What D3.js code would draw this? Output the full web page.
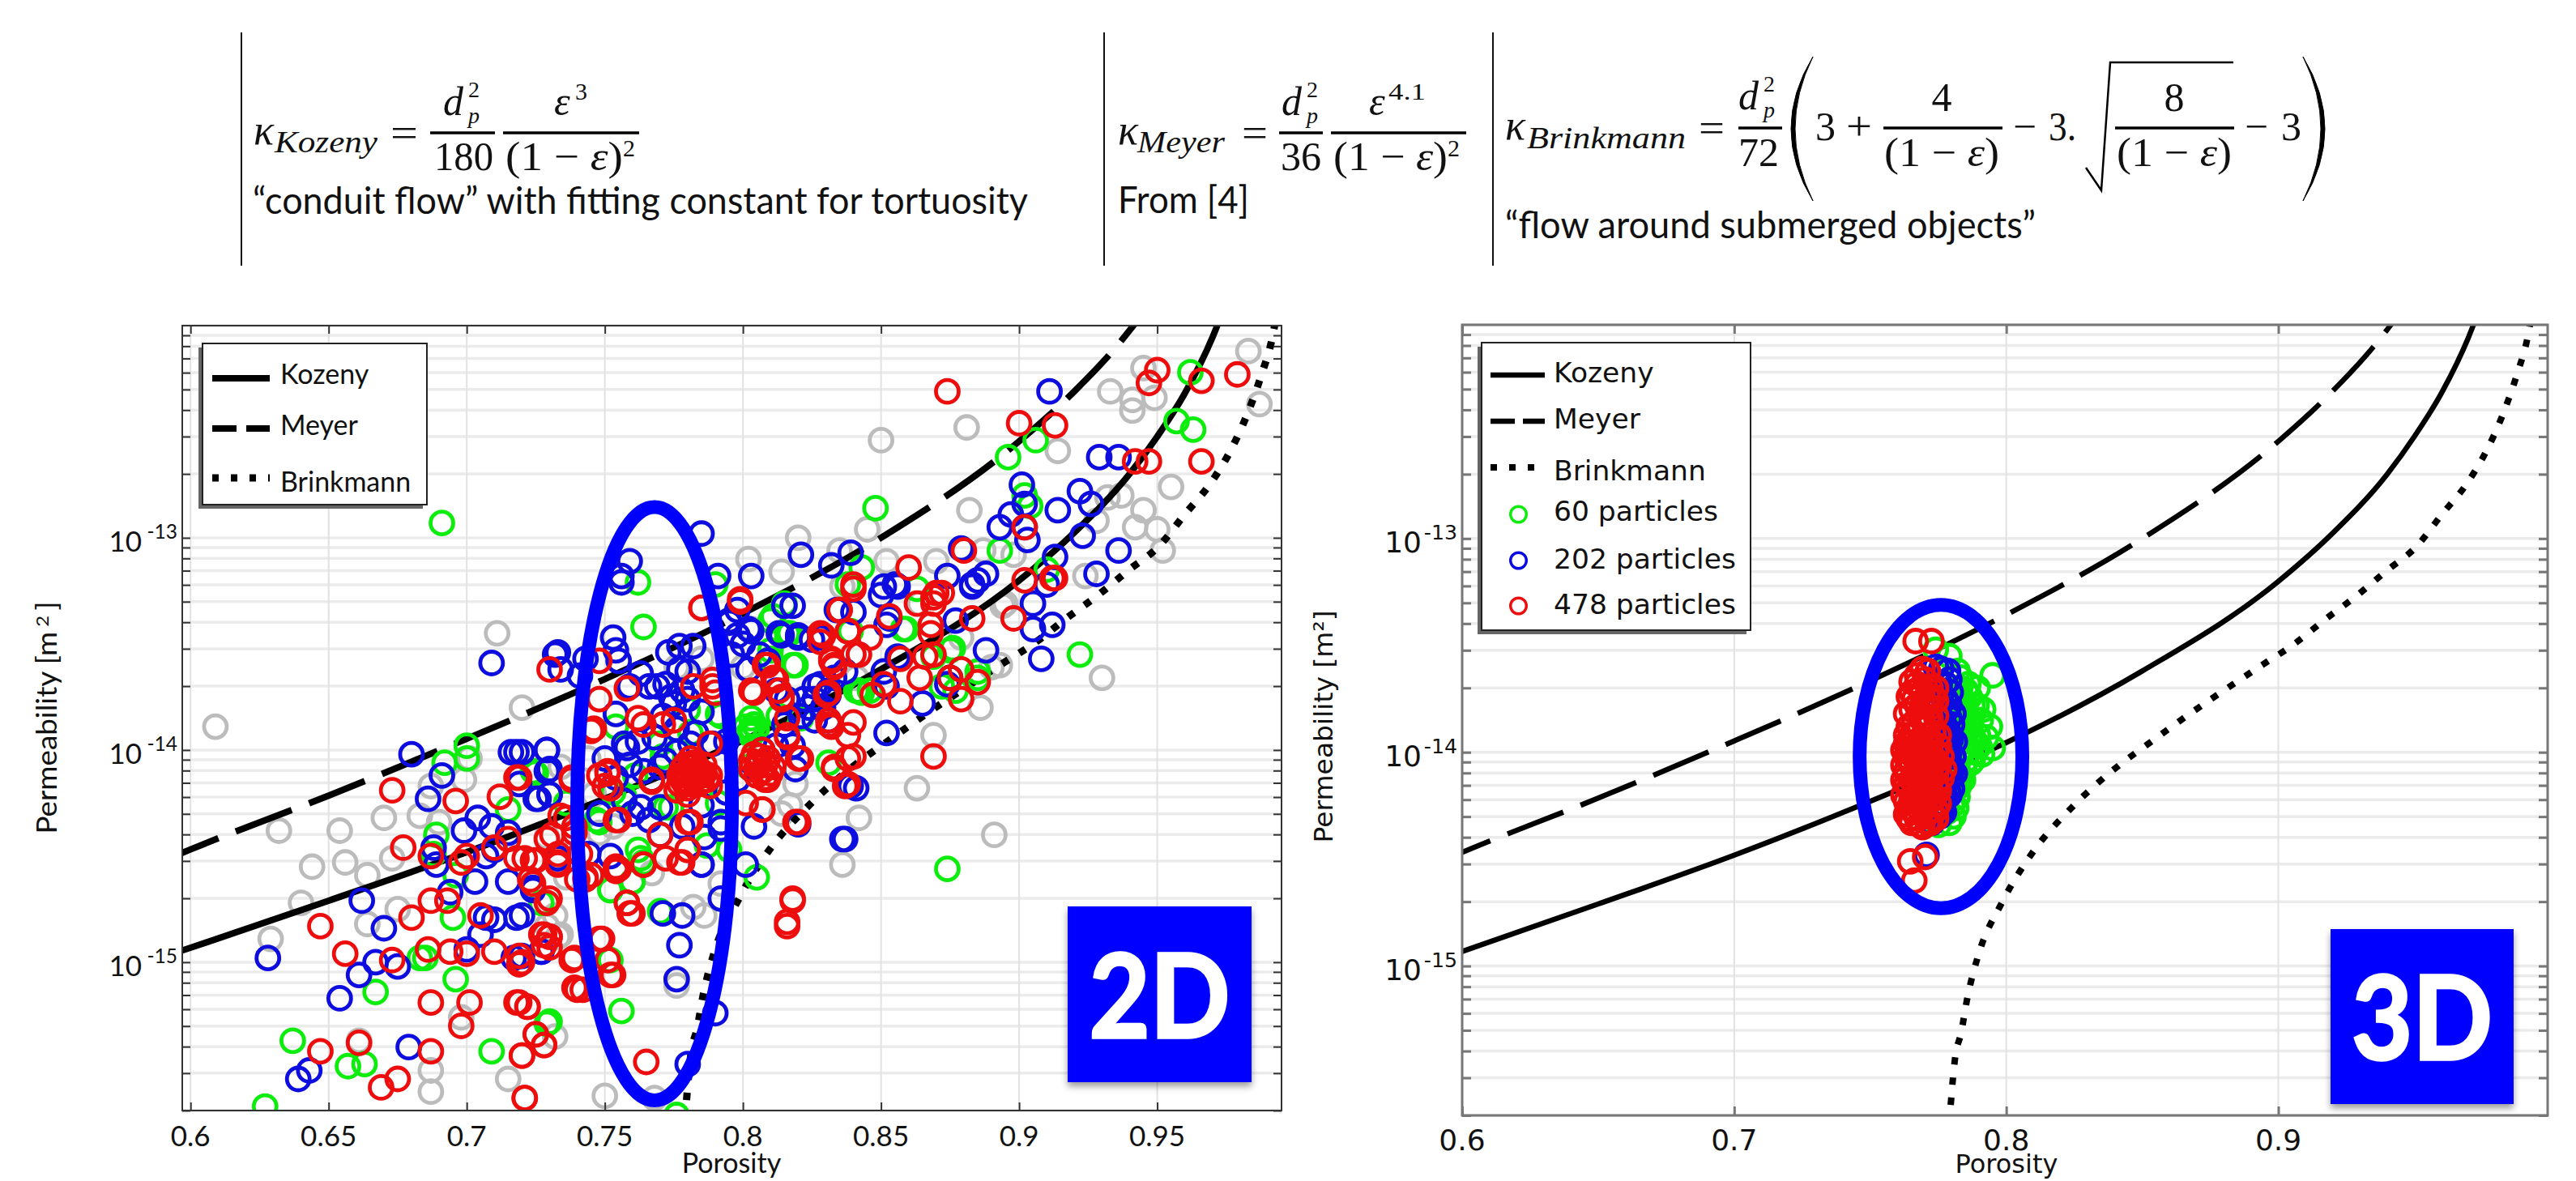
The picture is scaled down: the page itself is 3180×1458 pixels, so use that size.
<!DOCTYPE html>
<meta charset="utf-8">
<style>
    body { margin: 0; background: #fff; }
    svg { display: block; }
    text { fill: #111; }
    .domain { display: none; }
</style>
<svg width="3180" height="1458"></svg>
<script src="https://d3js.org/d3.v7.min.js"></script>
<script>
    // all readings are off the picture: [porosity, log10(permeability)]
    var gray2D = [[.609,-13.89],[.711,-13.45],[.720,-13.80],[.632,-14.38],[.654,-14.38],[.644,-14.55],[.656,-14.53],[.664,-14.59],[.673,-14.51],[.670,-14.32],[.683,-14.31],[.687,-14.17],[.699,-14.14],[.701,-14.04],[.640,-14.72],[.629,-14.89],[.664,-14.82],[.675,-14.75],[.698,-15.26],[.732,-15.35],[.687,-15.51],[.687,-15.61],[.715,-15.55],[.750,-15.63],[.768,-15.64],[.661,-15.37],[.729,-14.83],[.734,-14.87],[.690,-14.34],
        [.754,-13.83],[.758,-13.71],[.758,-13.98],[.744,-14.04],[.776,-13.61],[.785,-13.57],[.800,-13.61],[.803,-13.43],[.819,-13.60],[.817,-14.26],[.814,-14.30],[.819,-14.16],[.836,-14.54],[.792,-14.63],[.782,-14.74],[.786,-14.78],[.767,-14.58],[.753,-14.36],[.748,-14.39],[.729,-14.41],[.736,-14.60],[.732,-14.78],[.841,-13.66],[.734,-14.08],[.746,-14.21],[.776,-15.11],[.733,-14.88],
        [.930,-13.66],[.886,-13.80],[.869,-13.93],[.863,-14.18],[.842,-14.32],[.891,-14.40],[.893,-13.60],[.879,-13.47],[.895,-13.31],[.842,-13.55],[.836,-13.23],[.864,-13.31],
        [.983,-12.12],[.987,-12.37],[.945,-12.20],[.949,-12.34],[.941,-12.35],[.941,-12.40],[.933,-12.31],[.881,-12.48],[.914,-12.59],[.850,-12.54],[.955,-12.76],[.882,-12.87],[.945,-12.87],[.937,-12.80],[.932,-12.81],[.942,-12.95],[.950,-12.96],[.952,-13.06],[.928,-12.92],[.845,-12.96],[.820,-13.00],[.802,-13.10],[.814,-13.16],[.835,-13.06],[.852,-13.11],[.870,-13.11],[.887,-13.06],[.898,-13.08],[.924,-13.18],[.894,-13.32],[.890,-13.61]];

    var green2D = [[.691,-12.93],[.764,-13.42],[.762,-13.21],[.815,-13.31],[.810,-13.39],[.817,-13.45],[.819,-13.60],[.810,-13.57],[.839,-13.44],[.754,-13.89],[.780,-13.81],[.791,-13.83],[.781,-13.92],[.770,-13.97],[.771,-14.03],[.725,-14.11],[.761,-14.12],[.757,-14.22],[.753,-14.20],[.736,-14.25],[.772,-14.27],[.774,-14.27],[.791,-14.25],[.748,-14.34],[.803,-13.90],[.803,-13.85],[.813,-13.84],[.821,-13.84],[.831,-14.06],[.802,-14.08],[.762,-14.47],[.763,-14.51],[.764,-14.53],[.760,-14.62],[.752,-14.66],[.787,-14.45],[.795,-14.47],[.805,-14.60],[.770,-14.76],[.727,-14.72],[.842,-13.72],
        [.756,-15.23],[.730,-15.28],[.752,-14.99],[.776,-15.72],[.700,-13.98],[.700,-14.04],[.692,-14.06],[.724,-14.10],[.715,-14.28],[.689,-14.40],[.688,-14.49],[.696,-14.59],[.695,-14.79],[.685,-14.98],[.683,-14.98],[.696,-15.08],[.667,-15.14],[.729,-15.29],[.709,-15.42],[.637,-15.37],[.657,-15.49],[.663,-15.48],[.627,-15.68],[.747,-14.33],[.752,-14.66],[.760,-14.62],
        [.848,-12.86],[.896,-12.62],[.906,-12.54],[.962,-12.22],[.957,-12.45],[.963,-12.49],[.902,-12.80],[.904,-12.85],[.893,-13.06],[.910,-13.15],[.843,-13.14],[.838,-13.22],[.863,-13.24],[.815,-13.32],[.811,-13.37],[.816,-13.45],[.858,-13.43],[.818,-13.60],[.810,-13.53],[.790,-13.22],[.876,-13.52],[.885,-13.63],[.922,-13.55],[.885,-13.66],[.877,-13.72],[.846,-13.72],[.841,-13.72],[.872,-13.70],[.859,-13.43],[.875,-13.53],[.869,-13.56],[.874,-14.56],[.875,-13.66],[.843,-13.73],[.821,-13.85],[.803,-13.91],[.792,-13.84],
        [.802,-13.92],[.804,-13.88],[.803,-13.93],[.805,-13.90],[.801,-13.89]];

    var blue2D = [[.709,-13.59],[.732,-13.55],[.734,-13.62],[.743,-13.57],[.759,-13.11],[.756,-13.18],[.753,-13.47],[.754,-13.53],[.755,-13.58],[.733,-13.54],[.741,-13.65],[.756,-13.21],[.818,-13.32],[.798,-13.34],[.795,-13.40],[.803,-13.44],[.798,-13.46],[.800,-13.50],[.806,-13.55],[.814,-13.46],[.820,-13.46],[.828,-13.47],[.834,-13.34],[.773,-13.54],[.777,-13.51],[.782,-13.51],[.777,-13.62],[.780,-13.63],[.763,-13.64],[.769,-13.70],[.766,-13.70],[.772,-13.69],[.759,-13.70],[.774,-13.75],[.780,-13.76],[.754,-13.83],[.771,-13.84],[.783,-13.92],[.757,-13.97],[.758,-13.99],[.750,-14.04],[.729,-14.00],[.720,-14.01],[.730,-14.09],[.726,-14.23],[.730,-14.21],[.767,-14.14],[.772,-14.05],[.781,-13.97],[.789,-13.97],[.763,-14.27],[.770,-14.27],[.748,-14.30],[.785,-14.26],[.792,-14.34],[.786,-14.41],[.770,-14.40],[.804,-14.36],[.785,-14.54],[.801,-14.54],[.752,-14.50],[.744,-14.49],[.733,-14.51],[.724,-14.65],[.720,-14.78],[.792,-14.70],[.778,-14.78],[.771,-14.77],[.820,-14.35],[.837,-14.42],[.819,-14.09],[.839,-14.17],[.831,-13.72],[.833,-13.66],[.822,-13.76],[.826,-13.76],[.821,-13.84],[.826,-13.86],[.831,-13.86],[.807,-14.00],[.812,-13.72],[.816,-13.76],[.815,-13.88],[.809,-13.58],[.837,-13.63],
        [.777,-14.92],[.776,-15.08],[.790,-15.24],[.780,-15.48],[.727,-14.95],[.720,-14.97],
        [.680,-14.02],[.691,-14.12],[.686,-14.23],[.718,-14.01],[.716,-14.01],[.729,-14.00],[.729,-14.10],[.719,-14.16],[.725,-14.23],[.730,-14.21],[.704,-14.32],[.699,-14.38],[.709,-14.36],[.715,-14.39],[.710,-14.47],[.707,-14.50],[.689,-14.54],[.688,-14.46],[.703,-14.62],[.715,-14.62],[.694,-14.67],[.724,-14.66],[.662,-14.71],[.670,-14.84],[.707,-14.79],[.710,-14.80],[.718,-14.79],[.705,-14.87],[.700,-14.94],[.717,-14.98],[.727,-14.95],[.667,-15.00],[.661,-15.06],[.675,-15.02],[.628,-14.98],[.654,-15.17],[.679,-15.40],[.643,-15.51],[.639,-15.55],
        [.785,-12.98],[.791,-13.18],[.803,-13.18],[.821,-13.08],[.839,-13.07],[.832,-13.13],[.815,-13.32],[.795,-13.39],[.802,-13.43],[.813,-13.45],[.820,-13.47],[.851,-13.23],[.855,-13.22],[.874,-13.18],[.883,-13.22],[.885,-13.20],[.888,-13.17],[.879,-13.05],[.911,-12.31],[.901,-12.75],[.922,-12.78],[.926,-12.84],[.914,-12.87],[.902,-12.84],[.897,-12.89],[.893,-12.95],[.902,-12.95],[.903,-13.01],[.923,-12.99],[.913,-13.09],[.936,-13.06],[.929,-12.62],[.936,-12.62],[.928,-13.17],[.910,-13.22],[.905,-13.31],[.905,-13.43],[.912,-13.41],[.908,-13.57],[.888,-13.53],[.877,-13.39],[.865,-13.78],[.852,-13.92],[.856,-13.56],[.852,-13.70],[.875,-13.66],[.825,-13.48],[.831,-13.74],[.840,-13.35],[.852,-13.41],
        [.841,-14.18],[.836,-14.42],[.851,-13.63],[.828,-13.69],[.853,-13.38],[.850,-13.27],[.856,-13.23],[.883,-13.23],[.874,-13.69],[.792,-14.37],[.785,-14.54],
        [.775,-13.78],[.778,-13.72],[.785,-13.82],[.776,-13.90],[.768,-13.94],[.762,-13.96],[.759,-14.07],[.754,-14.13],[.764,-14.10],[.770,-14.08],[.776,-14.01],[.794,-13.96],[.798,-14.14],[.794,-14.20],[.757,-14.24],[.760,-14.30],[.778,-14.36],[.766,-14.33],[.812,-13.98],[.818,-13.98],[.826,-13.70],[.824,-13.80],[.829,-13.80],[.802,-13.62],[.796,-13.55]];

    var red2D = [[.874,-12.31],[.900,-12.46],[.913,-12.47],[.950,-12.21],[.947,-12.27],[.966,-12.26],[.979,-12.23],[.942,-12.64],[.947,-12.64],[.966,-12.64],[.902,-12.95],[.880,-13.06],[.860,-13.14],[.902,-13.20],[.913,-13.19],[.912,-13.19],[.840,-13.22],[.799,-13.30],[.785,-13.33],[.870,-13.26],[.872,-13.26],[.869,-13.28],[.863,-13.31],[.869,-13.31],[.835,-13.34],[.853,-13.37],[.883,-13.38],[.898,-13.38],[.868,-13.41],[.828,-13.45],[.838,-13.44],[.846,-13.47],[.868,-13.45],[.842,-13.55],[.832,-13.58],[.833,-13.61],[.869,-13.55],[.866,-13.56],[.857,-13.57],[.864,-13.66],[.851,-13.69],[.847,-13.74],[.857,-13.77],[.875,-13.66],[.885,-13.68],[.879,-13.62],[.879,-13.76],[.830,-13.74],[.831,-13.88],[.840,-13.87],[.816,-13.93],[.808,-13.60],[.811,-13.66],[.814,-13.75],[.803,-13.72],[.799,-13.29],
        [.869,-14.03],[.833,-14.08],[.840,-14.03],[.837,-14.17],[.820,-14.04],[.819,-14.34],[.807,-14.28],[.818,-14.71],[.816,-14.83],[.780,-14.47],[.777,-14.53],[.781,-14.34],[.808,-14.13],
        [.785,-13.33],[.730,-13.62],[.748,-13.58],[.758,-13.71],[.748,-13.76],[.746,-13.90],[.762,-13.85],[.764,-13.88],[.771,-13.88],[.775,-13.86],[.782,-13.70],[.789,-13.67],[.789,-13.70],[.790,-13.73],[.804,-13.73],[.809,-13.60],[.812,-13.67],[.813,-13.72],[.814,-13.76],[.816,-13.85],[.816,-13.94],[.821,-14.04],[.831,-13.86],[.832,-13.89],[.838,-13.93],[.829,-13.46],[.828,-13.49],[.835,-13.34],[.838,-13.44],[.832,-13.57],[.833,-13.60],[.840,-13.55],[.831,-13.73],[.840,-13.24],
        [.778,-14.09],[.780,-14.11],[.781,-14.04],[.783,-14.13],[.786,-14.11],[.778,-14.14],[.781,-14.16],[.776,-14.19],[.780,-14.21],[.788,-14.17],[.788,-13.97],[.784,-14.09],[.785,-14.15],[.779,-14.07],[.782,-14.10],
        [.782,-14.06],[.779,-14.12],[.784,-14.16],[.787,-14.14],[.777,-14.16],[.783,-14.07],[.786,-14.07],[.780,-14.18],[.777,-14.12],[.785,-14.12],[.788,-14.12],[.782,-14.14],[.784,-14.11],[.781,-14.08],[.779,-14.16],
        [.806,-14.03],[.807,-14.00],[.808,-14.07],[.805,-14.08],[.810,-14.11],[.808,-14.14],[.803,-14.05],[.804,-14.02],[.806,-14.06],[.809,-14.04],[.807,-14.10],[.805,-14.12],[.803,-14.09],[.811,-14.08],[.809,-14.14],
        [.833,-14.09],[.838,-14.04],[.838,-14.16],[.820,-14.34],[.807,-14.28],[.801,-14.25],[.780,-14.34],[.755,-14.33],[.751,-14.11],[.752,-14.18],[.767,-14.14],[.748,-14.12],[.738,-14.13],[.719,-14.13],[.770,-14.40],[.780,-14.47],[.778,-14.53],[.772,-14.51],[.754,-14.55],[.764,-14.54],[.755,-14.56],[.743,-14.60],[.745,-14.59],[.733,-14.54],[.724,-14.52],[.721,-14.51],[.723,-14.61],[.730,-14.70],[.758,-14.72],[.760,-14.77],[.818,-14.70],[.816,-14.81],[.739,-14.39],[.731,-14.40],[.733,-14.49],[.741,-14.49],[.734,-14.31],
        [.749,-14.89],[.753,-15.06],[.739,-14.98],[.739,-15.12],[.742,-15.13],[.728,-14.87],[.730,-14.88],[.730,-14.93],[.720,-15.00],[.722,-15.21],[.719,-15.19],[.725,-15.34],[.728,-15.39],[.720,-15.44],[.765,-15.47],[.721,-15.64],
        [.673,-14.19],[.696,-14.24],[.718,-14.13],[.712,-14.22],[.677,-14.46],[.687,-14.50],[.700,-14.50],[.698,-14.53],[.710,-14.46],[.715,-14.42],[.718,-14.51],[.725,-14.52],[.733,-14.53],[.724,-14.63],[.729,-14.72],[.687,-14.71],[.693,-14.71],[.680,-14.79],[.647,-14.83],[.705,-14.78],[.656,-14.96],[.673,-14.99],[.686,-14.94],[.694,-14.95],[.700,-14.96],[.710,-14.95],[.719,-14.97],[.719,-15.01],[.727,-14.87],[.730,-14.88],[.728,-14.92],[.687,-15.19],[.701,-15.19],[.718,-15.19],[.722,-15.21],[.698,-15.30],[.725,-15.34],[.728,-15.39],[.720,-15.44],[.687,-15.42],[.661,-15.38],[.647,-15.42],[.675,-15.55],[.669,-15.59],[.721,-15.64],[.738,-14.99],[.740,-15.13],[.748,-14.89],[.751,-14.99],[.752,-15.06],[.758,-14.72],[.759,-14.77],[.754,-14.57],[.764,-14.54],[.743,-14.61],[.740,-14.61],[.736,-14.32],[.739,-14.36],[.729,-14.42],[.751,-14.10],[.750,-14.17],[.738,-14.14],[.754,-14.33],[.767,-14.15],[.745,-13.91]];

    var green3D = [[.7950,-13.64],[.7895,-13.70],[.7915,-13.80],[.7940,-13.88],[.7950,-13.98],[.7870,-14.05],[.7831,-14.12],[.7821,-14.21],[.7791,-14.33],[.7751,-14.34],[.7791,-13.55],[.7741,-13.52],[.7821,-13.62],[.7851,-13.71],[.7811,-13.70],[.7831,-13.74],[.7801,-13.80],[.7826,-13.84],[.7851,-13.80],[.7876,-13.78],[.7871,-13.86],[.7841,-13.90],[.7811,-13.88],[.7806,-13.97],[.7836,-13.98],[.7866,-13.95],[.7896,-13.92],[.7886,-14.00],[.7851,-14.04],[.7821,-14.06],[.7806,-14.10],[.7906,-13.85],[.7926,-13.93],[.7911,-14.01],[.7841,-14.13],[.7811,-14.17],[.7801,-14.25],[.7781,-14.28],[.7831,-13.65],[.7861,-13.68],
        [.7831,-13.70],[.7846,-13.77],[.7816,-13.76],[.7861,-13.84],[.7891,-13.78],[.7851,-13.92],[.7831,-13.93],[.7816,-13.94],[.7881,-13.94],[.7861,-14.00],[.7831,-14.02],[.7846,-14.08],[.7901,-13.97],[.7816,-13.82],[.7841,-13.84],[.7876,-14.04],[.7826,-14.10],[.7826,-14.16],[.7816,-14.26],[.7806,-14.30],[.7801,-13.74],[.7836,-13.79],[.7866,-13.74],[.7871,-13.91],[.7851,-13.98]];
    var blue3D = [[.7741,-13.60],[.7786,-13.62],[.7761,-13.61],[.7781,-13.80],[.7791,-13.78],[.7796,-13.94],[.7801,-14.08],[.7776,-14.21],[.7727,-14.33],[.7707,-14.48],[.7756,-13.68],[.7776,-13.75],[.7766,-13.85],[.7786,-13.90],[.7791,-14.00],[.7771,-14.03],[.7796,-14.12],[.7776,-14.15],[.7766,-14.25],[.7786,-14.18],[.7746,-14.28],[.7756,-13.78],[.7736,-13.95],[.7746,-14.10],[.7781,-14.06],[.7771,-13.97],[.7791,-13.84],[.7761,-13.73],
        [.7776,-13.68],[.7796,-13.72],[.7806,-13.82],[.7791,-13.92],[.7806,-14.02],[.7796,-14.06],[.7811,-14.10],[.7791,-14.20],[.7771,-14.28],[.7756,-14.30],[.7791,-13.66],[.7781,-14.10],[.7786,-13.98],[.7801,-13.87],[.7761,-13.90],[.7766,-14.20],[.7801,-14.17],[.7751,-14.04],[.7776,-13.88],[.7811,-13.95]];
    var red3D = [[.7667,-13.48],[.7725,-13.48],[.7662,-14.60],[.7647,-14.51],[.7702,-14.49],[.7672,-13.64],[.7692,-13.61],[.7712,-13.62],[.7702,-13.66],[.7652,-13.67],[.7682,-13.70],[.7722,-13.70],[.7652,-13.72],[.7662,-13.75],[.7712,-13.74],[.7692,-13.78],[.7722,-13.79],[.7652,-13.80],[.7682,-13.82],[.7712,-13.84],[.7742,-13.83],[.7662,-13.86],[.7642,-13.88],[.7702,-13.89],[.7732,-13.91],[.7652,-13.92],[.7682,-13.94],[.7722,-13.96],[.7642,-13.96],[.7662,-13.99],[.7702,-14.00],[.7742,-14.00],[.7632,-14.02],[.7682,-14.03],[.7722,-14.05],[.7752,-14.06],[.7652,-14.06],[.7632,-14.09],[.7702,-14.08],[.7742,-14.10],[.7672,-14.11],[.7652,-14.13],[.7722,-14.13],[.7692,-14.15],[.7642,-14.17],[.7742,-14.16],[.7672,-14.19],[.7712,-14.20],[.7652,-14.22],[.7732,-14.22],[.7692,-14.24],[.7642,-14.26],[.7722,-14.27],[.7662,-14.28],[.7702,-14.30],[.7652,-14.33],[.7682,-14.34],[.7722,-14.33],[.7692,-14.35],
        [.7672,-13.68],[.7642,-13.74],[.7732,-13.74],[.7672,-13.78],[.7632,-13.82],[.7742,-13.76],[.7692,-13.84],[.7722,-13.86],[.7632,-13.92],[.7662,-13.92],[.7702,-13.94],[.7752,-13.92],[.7622,-13.99],[.7682,-13.98],[.7722,-14.00],[.7762,-14.02],[.7652,-14.01],[.7622,-14.06],[.7672,-14.06],[.7702,-14.04],[.7742,-14.04],[.7772,-14.08],[.7622,-14.13],[.7682,-14.10],[.7722,-14.09],[.7762,-14.12],[.7632,-14.15],[.7702,-14.13],[.7752,-14.18],[.7622,-14.20],[.7682,-14.16],[.7722,-14.18],[.7662,-14.23],[.7702,-14.22],[.7752,-14.24],[.7632,-14.23],[.7682,-14.27],[.7742,-14.27],[.7632,-14.29],[.7702,-14.26],[.7672,-14.31],[.7712,-14.33],[.7742,-14.31],[.7642,-14.31],[.7692,-13.72],[.7742,-13.70],[.7632,-13.96],[.7682,-13.88],[.7652,-13.96],[.7732,-14.03],[.7712,-13.92],[.7692,-14.02],[.7752,-13.97],[.7702,-14.18],[.7662,-14.15],[.7642,-14.04],[.7712,-14.11],[.7682,-14.21],[.7652,-14.27],[.7722,-13.84]];

    var kozenyPorosity = [.59,.6,.65,.7,.75,.8,.85,.9,.92,.94,.95,.96,.97,.975];
    var kozenyValues = [1.06e-15,1.17e-15,1.95e-15,3.3e-15,5.9e-15,1.11e-14,2.4e-14,6.3e-14,1.06e-13,2.0e-13,3.0e-13,4.8e-13,8.8e-13,1.29e-12];
    var meyerPorosity = [.59,.6,.65,.7,.75,.8,.85,.9,.92,.935,.94,.945];
    var meyerValues = [3.0e-15,3.4e-15,6.1e-15,1.13e-14,2.16e-14,4.4e-14,1.0e-13,2.85e-13,4.9e-13,7.9e-13,9.5e-13,1.15e-12];
    var brinkmannPorosity = [.779,.7813,.7833,.7858,.7895,.7986,.8097,.824,.8405,.8524,.8637,.8928,.9057,.9174,.9288,.94,.9505,.9602,.9692,.9767,.9825,.9878,.9916,.994];
    var brinkmannValues = [1.8e-16,3.8e-16,4.8e-16,7.2e-16,1.1e-15,2.0e-15,3.4e-15,5.5e-15,8.5e-15,1.1e-14,1.4e-14,2.5e-14,3.2e-14,4.2e-14,5.4e-14,7.1e-14,9.1e-14,1.3e-13,1.8e-13,2.6e-13,3.8e-13,5.9e-13,8.7e-13,1.3e-12];

    var ticks2D = [0.6, 0.65, 0.7, 0.75, 0.8, 0.85, 0.9, 0.95];
    var ticks3D = [0.6, 0.7, 0.8, 0.9];
    var decades = [-13, -14, -15];
    var minorFactors = [2, 3, 4, 5, 6, 7, 8, 9];
    var curveNames = ["Kozeny", "Meyer", "Brinkmann"];
    var particleNames = ["60 particles", "202 particles", "478 particles"];

    var GREEN = "#0ced0c", BLUE = "#0a0ae0", RED = "#ee0c0c", GRAY = "#bcbcbc", MARK = "#0000ff";

    var svg = d3.select("svg");
    var defs = svg.append("defs");
    defs.append("filter").attr("id", "soft").append("feGaussianBlur").attr("stdDeviation", 0.7);
    var shadow = defs.append("filter").attr("id", "shadow").attr("x", "-10%").attr("y", "-10%").attr("width", "125%").attr("height", "125%");
    shadow.append("feDropShadow").attr("dx", 0).attr("dy", 5).attr("stdDeviation", 4).attr("flood-color", "#000").attr("flood-opacity", 0.4);

    // every grid value between the decades, 2e-16 up to 1e-12
    var gridValues = [];
    [-16, -15, -14, -13].forEach(function (e) {
        minorFactors.forEach(function (f) { gridValues.push(f * Math.pow(10, e)); });
        gridValues.push(Math.pow(10, e + 1));
    });

    function drawPanel(p) {
        var x = d3.scaleLinear().domain(p.xDomain).range([p.left, p.right]);
        var y = d3.scaleLog().domain([2e-16, 1e-12]).range([p.bottom, p.top]);
        var g = svg.append("g");

        g.append("g").selectAll("line").data(gridValues).enter().append("line")
            .attr("x1", p.left).attr("x2", p.right)
            .attr("y1", function (d) { return y(d); }).attr("y2", function (d) { return y(d); })
            .attr("stroke", "#ebebeb").attr("stroke-width", 3.5);
        g.append("g").selectAll("line").data(p.xTicks).enter().append("line")
            .attr("x1", function (d) { return x(d); }).attr("x2", function (d) { return x(d); })
            .attr("y1", p.top).attr("y2", p.bottom)
            .attr("stroke", "#e2e2e2").attr("stroke-width", 2);

        defs.append("clipPath").attr("id", p.id).append("rect")
            .attr("x", p.left).attr("y", p.top).attr("width", p.right - p.left).attr("height", p.bottom - p.top);
        var plot = g.append("g").attr("clip-path", "url(#" + p.id + ")").append("g").attr("filter", "url(#soft)");

        function dots(data, color) {
            plot.append("g").selectAll("circle").data(data).enter().append("circle")
                .attr("cx", function (d) { return x(d[0]); })
                .attr("cy", function (d) { return y(Math.pow(10, d[1])); })
                .attr("r", 14).attr("fill", "none").attr("stroke", color).attr("stroke-width", 4.8);
        }
        function curve(xs, ys, width, dash) {
            var line = d3.line()
                .x(function (d, i) { return x(d); })
                .y(function (d, i) { return y(ys[i]); })
                .curve(d3.curveMonotoneX);
            plot.append("path").attr("d", line(xs)).attr("fill", "none").attr("stroke", "#000")
                .attr("stroke-width", width).attr("stroke-dasharray", dash);
        }

        if (p.gray) dots(p.gray, GRAY);
        curve(kozenyPorosity, kozenyValues, p.lineWidth, null);
        curve(meyerPorosity, meyerValues, p.lineWidth, "74 23");
        curve(brinkmannPorosity, brinkmannValues, p.dotWidth, "9 16");
        dots(p.green, GREEN);
        dots(p.blue, BLUE);
        dots(p.red, RED);

        // axes with inward ticks
        var axes = g.append("g").attr("stroke-width", p.axisWidth);
        var yAxis = d3.axisLeft(y).tickValues(gridValues.slice(0, -1)).tickSize(-p.tickLen).tickFormat("");
        axes.append("g").attr("transform", "translate(" + p.left + ",0)").call(yAxis);
        axes.append("g").attr("transform", "translate(" + p.right + ",0)").call(d3.axisRight(y).tickValues(gridValues.slice(0, -1)).tickSize(-p.tickLen).tickFormat(""));
        axes.append("g").attr("transform", "translate(0," + p.bottom + ")").call(d3.axisBottom(x).tickValues(p.xTicks).tickSize(-p.tickLen).tickFormat(""));
        axes.append("g").attr("transform", "translate(0," + p.top + ")").call(d3.axisTop(x).tickValues(p.xTicks).tickSize(-p.tickLen).tickFormat(""));
        axes.selectAll(".tick line").attr("stroke", p.axisColor);
        g.append("rect").attr("x", p.left).attr("y", p.top).attr("width", p.right - p.left).attr("height", p.bottom - p.top)
            .attr("fill", "none").attr("stroke", p.axisColor).attr("stroke-width", p.axisWidth);

        // tick labels
        g.append("g").selectAll("text").data(p.xTicks).enter().append("text")
            .attr("x", function (d) { return x(d); }).attr("y", p.xLabelY)
            .attr("text-anchor", "middle").attr("font-family", p.font).attr("font-size", p.tickSize)
            .text(function (d) { return d; });
        decades.forEach(function (e) {
            var yy = y(Math.pow(10, e));
            g.append("text").attr("x", p.left - 50).attr("y", yy + 17).attr("text-anchor", "end")
                .attr("font-family", p.font).attr("font-size", p.tickSize).text("10");
            g.append("text").attr("x", p.left - 6).attr("y", yy + 1).attr("text-anchor", "end")
                .attr("font-family", p.font).attr("font-size", p.tickSize * 0.7).text(e);
        });

        g.append("text").attr("x", p.xTitleX).attr("y", p.xTitleY).attr("text-anchor", "middle")
            .attr("font-family", p.font).attr("font-size", p.titleSize).text("Porosity");
        g.append("text").attr("transform", "translate(" + p.yTitleX + "," + p.yTitleY + ") rotate(-90)")
            .attr("text-anchor", "middle").attr("font-family", p.font).attr("font-size", p.titleSize)
            .attr("textLength", 287).attr("lengthAdjust", "spacingAndGlyphs")
            .html(p.yTitle);

        // ring picking out the common porosity
        g.append("ellipse")
            .attr("cx", x(p.ring[0])).attr("cy", y(Math.pow(10, p.ring[1])))
            .attr("rx", x(p.ring[0] + p.ring[2]) - x(p.ring[0]))
            .attr("ry", y(Math.pow(10, p.ring[1] - p.ring[3])) - y(Math.pow(10, p.ring[1])))
            .attr("fill", "none").attr("stroke", MARK).attr("stroke-width", 17);

        // legend
        var l = g.append("g");
        var b = p.legendBox;
        l.append("rect").attr("x", b[0] - 5).attr("y", b[1] + 5).attr("width", b[2] - b[0]).attr("height", b[3] - b[1]).attr("fill", "#666");
        l.append("rect").attr("x", b[0]).attr("y", b[1]).attr("width", b[2] - b[0]).attr("height", b[3] - b[1])
            .attr("fill", "#fff").attr("stroke", "#222").attr("stroke-width", 2);
        curveNames.forEach(function (name, i) {
            var dash = [null, p.legendDash, p.legendDot][i];
            l.append("line").attr("x1", p.sampleX[0]).attr("x2", p.sampleX[1])
                .attr("y1", p.sampleY[i]).attr("y2", p.sampleY[i])
                .attr("stroke", "#000").attr("stroke-width", i == 2 ? p.dotWidth : p.lineWidth).attr("stroke-dasharray", dash);
            l.append("text").attr("x", p.labelX).attr("y", p.labelY[i])
                .attr("font-family", p.font).attr("font-size", p.legendSize).text(name);
        });
        if (p.showParticles) {
            particleNames.forEach(function (name, i) {
                l.append("circle").attr("cx", 1874.5).attr("cy", p.sampleY[i + 3]).attr("r", 9.8)
                    .attr("fill", "none").attr("stroke", [GREEN, BLUE, RED][i]).attr("stroke-width", 3.4);
                l.append("text").attr("x", p.labelX).attr("y", p.labelY[i + 3])
                    .attr("font-family", p.font).attr("font-size", p.legendSize).text(name);
            });
        }

        // 2D / 3D badge
        var t = p.badge;
        g.append("rect").attr("x", t[0]).attr("y", t[1]).attr("width", t[2] - t[0]).attr("height", t[3] - t[1])
            .attr("fill", MARK).attr("filter", "url(#shadow)");
        g.append("text").attr("x", (t[0] + t[2]) / 2).attr("y", t[4])
            .attr("text-anchor", "middle").attr("font-family", "Lato").attr("font-weight", 700).attr("font-size", 143)
            .attr("textLength", 174).attr("lengthAdjust", "spacingAndGlyphs")
            .attr("stroke", "#fff").attr("stroke-width", 3.5)
            .style("fill", "#fff").text(p.badgeText);
    }

    drawPanel({
        id: "clip2d", left: 225, right: 1582, top: 402, bottom: 1371,
        xDomain: [0.597, 0.995], xTicks: ticks2D,
        gray: gray2D, green: green2D, blue: blue2D, red: red2D,
        lineWidth: 8, dotWidth: 9, axisWidth: 2, axisColor: "#333", tickLen: 10,
        font: "Lato", tickSize: 35, titleSize: 34, legendSize: 34,
        xLabelY: 1415, xTitleX: 903, xTitleY: 1448, yTitleX: 70, yTitleY: 886,
        yTitle: "Permeability [m<tspan dy=\"-10\" font-size=\"22\"> 2 </tspan><tspan dy=\"10\">]</tspan>",
        ring: [0.768, -14.253, 0.028, 1.398],
        legendBox: [250, 424, 527, 623], sampleX: [262, 333], sampleY: [467, 529, 590],
        labelX: 346, labelY: [474, 537, 607], legendDash: "30 12", legendDot: "8 15",
        badge: [1318, 1119, 1545, 1336, 1281], badgeText: "2D"
    });

    drawPanel({
        id: "clip3d", left: 1805, right: 3145, top: 401, bottom: 1377,
        xDomain: [0.6, 0.999], xTicks: ticks3D,
        green: green3D, blue: blue3D, red: red3D,
        lineWidth: 6.5, dotWidth: 8, axisWidth: 3, axisColor: "#777", tickLen: 11,
        font: "DejaVu Sans", tickSize: 36, titleSize: 32, legendSize: 34.5,
        xLabelY: 1420, xTitleX: 2477, xTitleY: 1448, yTitleX: 1645, yTitleY: 897,
        yTitle: "Permeability [m\u00b2]",
        ring: [0.776, -14.02, 0.0299, 0.71],
        legendBox: [1829, 423, 2161, 778], sampleX: [1840, 1907], sampleY: [463, 520, 577, 635, 692, 748],
        labelX: 1918, labelY: [472, 529, 593, 643, 702, 758], legendDash: "30 10", legendDot: "8 15",
        showParticles: true,
        badge: [2877, 1147, 3103, 1363, 1308], badgeText: "3D"
    });

    // ---- formula strip ----
    var MATH = "Liberation Serif", BODY = "Lato";
    var eps = "<tspan font-style=\"italic\">\u03b5</tspan>";

    function put(x, y, html, size, opt) {
        opt = opt || {};
        var t = svg.append("text").attr("x", x).attr("y", y)
            .attr("font-family", opt.family || MATH).attr("font-size", size)
            .attr("font-style", opt.italic ? "italic" : null)
            .attr("text-anchor", opt.anchor || "start")
            .html(html);
        if (opt.len) t.attr("textLength", opt.len).attr("lengthAdjust", "spacingAndGlyphs");
        return t;
    }
    function rule(x) {
        svg.append("line").attr("x1", x).attr("x2", x).attr("y1", 40).attr("y2", 328).attr("stroke", "#111").attr("stroke-width", 2);
    }
    function bar(x1, x2, y) {
        svg.append("line").attr("x1", x1).attr("x2", x2).attr("y1", y).attr("y2", y).attr("stroke", "#000").attr("stroke-width", 3.5);
    }
    function dpSquared(x, base) {
        put(x, base, "d", 50, { italic: true });
        put(x + 31, base - 22, "2", 28);
        put(x + 31, base + 10, "p", 28, { italic: true });
    }

    rule(298); rule(1363); rule(1843);

    put(313, 178, "\u03ba", 52, { italic: true });
    put(339, 188, "Kozeny", 38, { italic: true, len: 127 });
    put(482, 181, "=", 50, { len: 34 });
    dpSquared(547, 142);
    bar(531, 611, 164);
    put(536, 210, "180", 50, { len: 73 });
    put(684, 142, "\u03b5", 50, { italic: true });
    put(710, 123, "3", 30);
    bar(621, 789, 164);
    put(624, 210, "(1 \u2212 " + eps + ")", 50, { len: 145 });
    put(769, 193, "2", 30);
    put(312, 264, "\u201cconduit flow\u201d with fitting constant for tortuosity", 46, { family: BODY, len: 957 });

    put(1380, 178, "\u03ba", 52, { italic: true });
    put(1404, 188, "Meyer", 38, { italic: true, len: 108 });
    put(1533, 181, "=", 50, { len: 32 });
    dpSquared(1582, 142);
    bar(1579, 1633, 164);
    put(1581, 210, "36", 50, { len: 50 });
    put(1690, 142, "\u03b5", 50, { italic: true });
    put(1714, 123, "4.1", 30, { len: 46 });
    bar(1643, 1810, 164);
    put(1646, 210, "(1 \u2212 " + eps + ")", 50, { len: 141 });
    put(1787, 193, "2", 30);
    put(1380, 263, "From [4]", 46, { family: BODY, len: 162 });

    put(1858, 172, "\u03ba", 52, { italic: true });
    put(1885, 183, "Brinkmann", 38, { italic: true, len: 196 });
    put(2097, 175, "=", 50, { len: 32 });
    dpSquared(2146, 135);
    bar(2146, 2200, 158);
    put(2146, 205, "72", 50, { len: 50 });
    svg.append("path").attr("d", "M2238,70 Q2184,159 2238,248 Q2194,159 2238,70Z").attr("fill", "#000").attr("stroke", "#000").attr("stroke-width", 1);
    svg.append("path").attr("d", "M2843,70 Q2897,159 2843,248 Q2887,159 2843,70Z").attr("fill", "#000").attr("stroke", "#000").attr("stroke-width", 1);
    put(2241, 173, "3", 50);
    put(2279, 173, "+", 50, { len: 32 });
    put(2397, 137, "4", 50, { anchor: "middle" });
    bar(2325, 2472, 158);
    put(2326, 205, "(1 \u2212 " + eps + ")", 50, { len: 142 });
    put(2485, 173, "\u2212", 50, { len: 29 });
    put(2529, 173, "3.", 50, { len: 34 });
    svg.append("path").attr("d", "M2575,207 L2594,235 L2605,77 L2757,77").attr("fill", "none").attr("stroke", "#000").attr("stroke-width", 2.5);
    put(2684, 137, "8", 50, { anchor: "middle" });
    bar(2611, 2758, 158);
    put(2613, 205, "(1 \u2212 " + eps + ")", 50, { len: 142 });
    put(2771, 173, "\u2212", 50, { len: 29 });
    put(2816, 173, "3", 50);
    put(1858, 294, "\u201cflow around submerged objects\u201d", 46, { family: BODY, len: 655 });
</script>
